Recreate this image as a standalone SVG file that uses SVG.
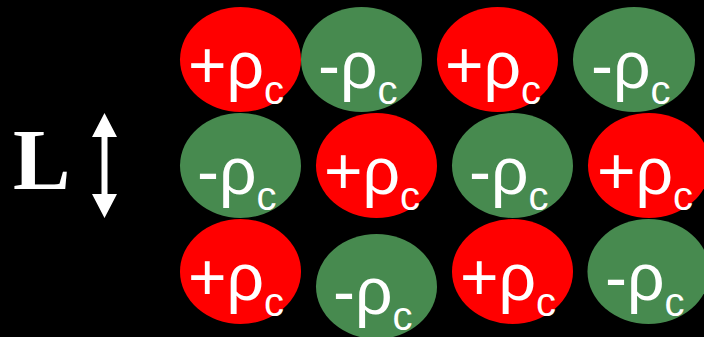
<svg xmlns="http://www.w3.org/2000/svg" width="704" height="337" viewBox="0 0 704 337">
  <style>
    .pos { fill: #FF0000; }
    .neg { fill: #478A4F; }
    .lbl { fill: #FFFFFF; font-family: "Liberation Sans", Arial, sans-serif; font-size: 66px; }
    .sub { font-size: 40px; }
    .L { fill: #FFFFFF; font-family: "Liberation Serif", "Times New Roman", serif; font-weight: bold; font-size: 86px; }
  </style>
  <rect x="0" y="0" width="704" height="337" fill="#000000"/>

  <g id="scale">
    <text class="L" x="13" y="189">L</text>
    <polygon fill="#FFFFFF" points="104.5,113 117,137 107.5,137 107.5,194 117,194 104.5,218 92,194 101.5,194 101.5,137 92,137"/>
  </g>

  <!-- Row 1 -->
  <g id="r1c1"><ellipse class="pos" cx="240.5" cy="59.5" rx="60.5" ry="52.5"/>
    <text class="lbl" x="188" y="88">+ρ<tspan class="sub" dy="16">c</tspan></text></g>
  <g id="r1c2"><ellipse class="neg" cx="361.5" cy="59.5" rx="60.5" ry="52.5"/>
    <text class="lbl" x="318" y="88">-ρ<tspan class="sub" dy="16">c</tspan></text></g>
  <g id="r1c3"><ellipse class="pos" cx="497.5" cy="59.5" rx="60.5" ry="52.5"/>
    <text class="lbl" x="445" y="88">+ρ<tspan class="sub" dy="16">c</tspan></text></g>
  <g id="r1c4"><ellipse class="neg" cx="634" cy="59.5" rx="61" ry="52.5"/>
    <text class="lbl" x="591" y="88">-ρ<tspan class="sub" dy="16">c</tspan></text></g>

  <!-- Row 2 -->
  <g id="r2c1"><ellipse class="neg" cx="240.5" cy="165.5" rx="60.5" ry="52.5"/>
    <text class="lbl" x="197" y="194">-ρ<tspan class="sub" dy="16">c</tspan></text></g>
  <g id="r2c2"><ellipse class="pos" cx="376.5" cy="165.5" rx="60.5" ry="52.5"/>
    <text class="lbl" x="324" y="194">+ρ<tspan class="sub" dy="16">c</tspan></text></g>
  <g id="r2c3"><ellipse class="neg" cx="512.5" cy="165.5" rx="60.5" ry="52.5"/>
    <text class="lbl" x="469" y="194">-ρ<tspan class="sub" dy="16">c</tspan></text></g>
  <g id="r2c4"><ellipse class="pos" cx="649" cy="165.5" rx="61" ry="52.5"/>
    <text class="lbl" x="597" y="194">+ρ<tspan class="sub" dy="16">c</tspan></text></g>

  <!-- Row 3 -->
  <g id="r3c1"><ellipse class="pos" cx="240.5" cy="271.5" rx="60.5" ry="52.5"/>
    <text class="lbl" x="188" y="300">+ρ<tspan class="sub" dy="16">c</tspan></text></g>
  <g id="r3c2"><ellipse class="neg" cx="376.5" cy="286.5" rx="60.5" ry="52.5"/>
    <text class="lbl" x="333" y="314">-ρ<tspan class="sub" dy="16">c</tspan></text></g>
  <g id="r3c3"><ellipse class="pos" cx="512.5" cy="271.5" rx="60.5" ry="52.5"/>
    <text class="lbl" x="460" y="300">+ρ<tspan class="sub" dy="16">c</tspan></text></g>
  <g id="r3c4"><ellipse class="neg" cx="648.5" cy="271.5" rx="61" ry="52.5"/>
    <text class="lbl" x="605" y="300">-ρ<tspan class="sub" dy="16">c</tspan></text></g>
</svg>
